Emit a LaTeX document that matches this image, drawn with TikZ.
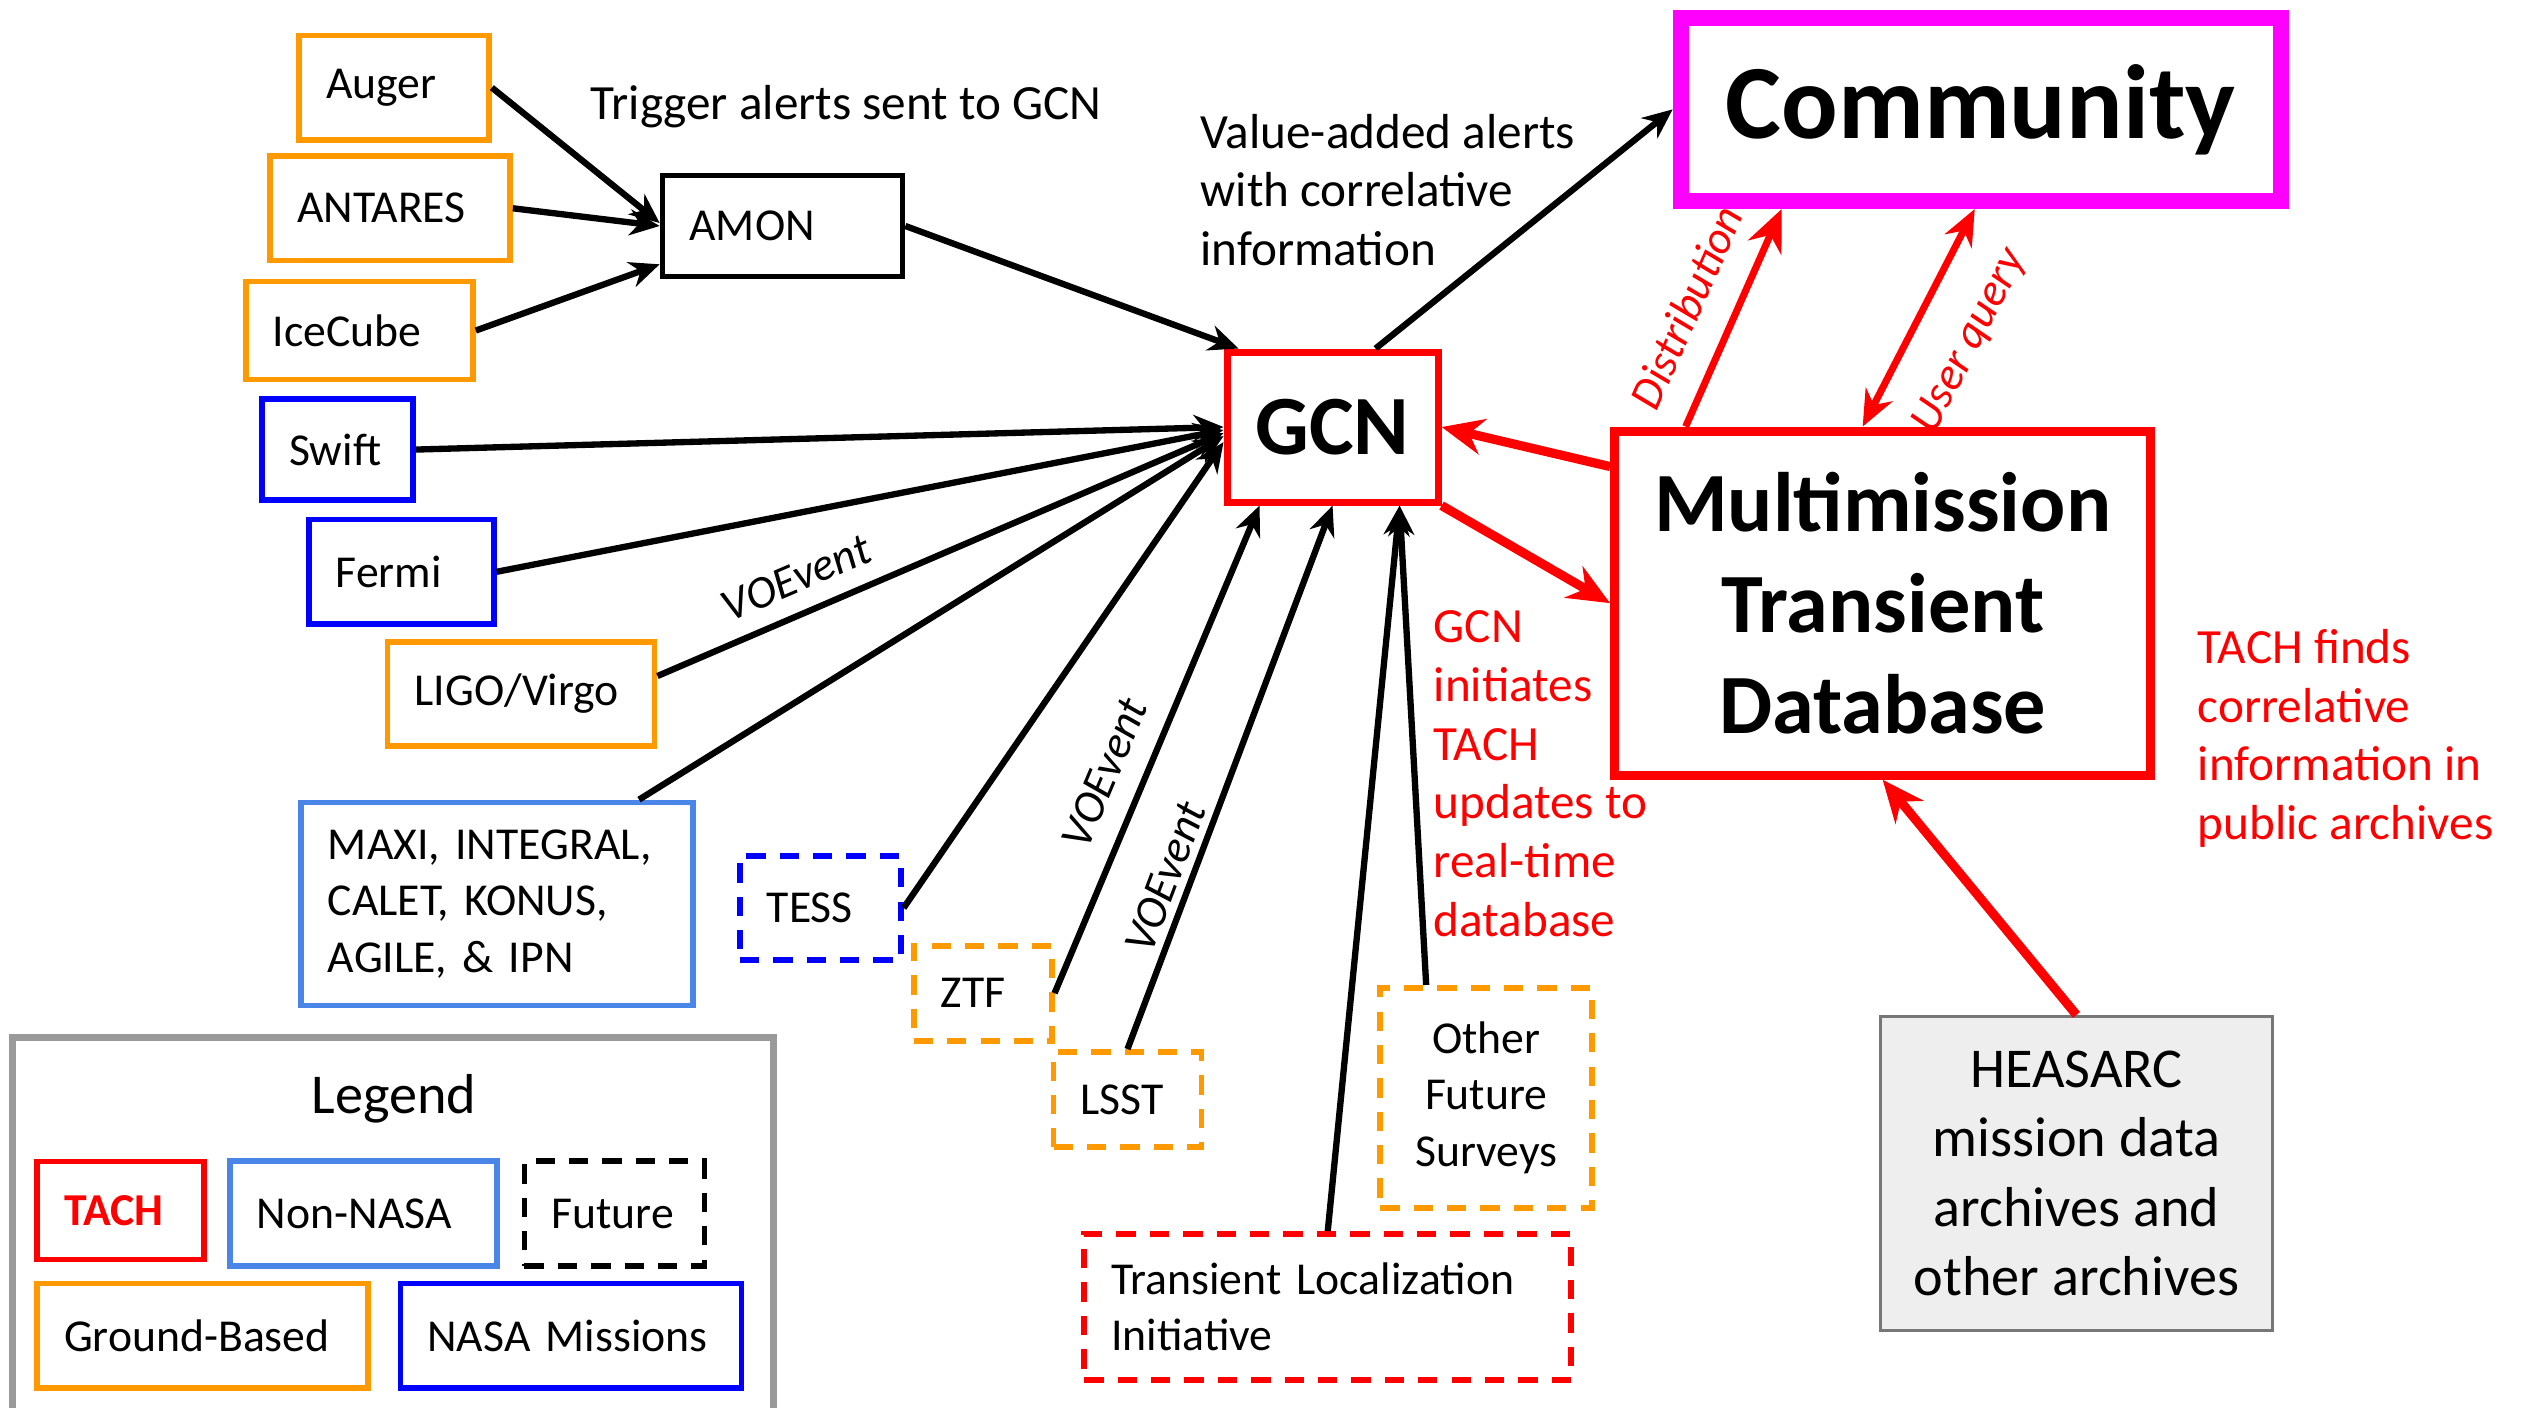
\documentclass[tikz,border=0pt]{standalone}
\usepackage{fontspec}
\setmainfont{Carlito}
\usetikzlibrary{arrows.meta,positioning}
\definecolor{gorange}{HTML}{FF9900}
\definecolor{nblue}{HTML}{0000FF}
\definecolor{cblue}{HTML}{4A86E8}
\definecolor{tred}{HTML}{FF0000}
\definecolor{cmag}{HTML}{FF00FF}
\definecolor{lgray}{HTML}{999999}
\definecolor{hgray}{HTML}{777777}
\definecolor{hfill}{HTML}{EEEEEE}
\frenchspacing

\begin{document}
\begin{tikzpicture}[
  x=0.016084cm, y=-0.016084cm,
  font=\fontsize{13}{16}\selectfont,
  box/.style={draw, line width=1.6pt, rectangle, minimum height=1.045cm, align=left, inner xsep=0.27cm, inner ysep=2pt},
  ground/.style={box, draw=gorange},
  nasa/.style={box, draw=nblue},
  nonnasa/.style={box, draw=cblue},
  tach/.style={box, draw=tred},
  futbox/.style={dash pattern=on 5.5pt off 4pt},
  lbl/.style={font=\fontsize{14}{16.7}\selectfont, align=left, inner sep=0pt},
  redlbl/.style={lbl, text=tred},
  voe/.style={font=\fontsize{13}{15}\selectfont\itshape, sloped, above, inner sep=2pt},
  arr/.style={-{Stealth[length=3mm,width=2.6mm]}, line width=1.8pt},
  tarr/.style={-{Stealth[length=4.2mm,width=3.6mm]}, line width=2.6pt, draw=tred},
  qarr/.style={{Stealth[length=3.6mm,width=3mm]}-{Stealth[length=3.6mm,width=3mm]}, line width=2pt, draw=tred}
]
\useasboundingbox (0,0) rectangle (1568,875);

% sources feeding AMON
\node[ground, minimum width=1.90cm, text width=1.36cm] (auger) at (245,54.5) {Auger};
\node[ground, minimum width=2.40cm, text width=1.86cm] (antares) at (242.5,129.5) {ANTARES};
\node[ground, minimum width=2.27cm, text width=1.73cm, minimum height=0.98cm] (icecube) at (223.5,205.5) {IceCube};
\node[box, minimum width=2.40cm, text width=1.86cm, minimum height=1.01cm] (amon) at (486.5,140.5) {AMON};

% missions and surveys
\node[nasa, minimum width=1.51cm, text width=0.97cm, minimum height=1.01cm] (swift) at (210,279.5) {Swift};
\node[nasa, minimum width=1.85cm, text width=1.31cm] (fermi) at (249.5,355.5) {Fermi};
\node[ground, minimum width=2.67cm, text width=2.13cm] (ligo) at (324,431.5) {LIGO/Virgo};
\node[nonnasa, minimum width=3.92cm, text width=3.38cm, minimum height=2.03cm] (maxi) at (309,562) {MAXI, INTEGRAL,\\CALET, KONUS,\\AGILE, \& IPN};
\node[nasa, futbox, minimum width=1.61cm, text width=1.07cm] (tess) at (510,564.5) {TESS};
\node[ground, futbox, minimum width=1.38cm, text width=0.84cm, minimum height=0.95cm] (ztf) at (611,617.5) {ZTF};
\node[ground, futbox, minimum width=1.48cm, text width=0.94cm, minimum height=0.95cm] (lsst) at (701,683.5) {LSST};
\node[ground, futbox, minimum width=2.12cm, text width=1.58cm, minimum height=2.20cm, align=center] (other) at (924,682.5) {Other\\Future\\Surveys};
\node[tach, futbox, minimum width=4.87cm, text width=4.33cm, minimum height=1.46cm] (tli) at (825.5,812.5) {Transient Localization\\Initiative};

% core
\node[tach, line width=2pt, minimum width=2.11cm, minimum height=1.50cm, align=center, inner xsep=2pt, font=\fontsize{24}{28}\selectfont\bfseries] (gcn) at (828.5,265.5) {GCN};
\node[draw=cmag, line width=4.6pt, minimum width=6.0cm, minimum height=1.83cm, font=\fontsize{30}{34}\selectfont\bfseries] (comm) at (1231.5,68) {Community};
\node[tach, line width=2.6pt, minimum width=5.36cm, minimum height=3.44cm, align=center, inner xsep=2pt, font=\fontsize{24}{28.6}\selectfont\bfseries] (mtd) at (1170.5,375) {Multimission\\Transient\\Database};
\node[draw=hgray, fill=hfill, line width=0.8pt, minimum width=3.92cm, minimum height=3.14cm, align=center, font=\fontsize{16}{19.7}\selectfont] (heasarc) at (1291,729.5) {HEASARC\\mission data\\archives and\\other archives};

% notes
\node[lbl] (trig) at (526,66) {Trigger alerts sent to GCN};
\node[lbl, anchor=west] (valadd) at (746,118) {Value-added alerts\\with correlative\\information};
\node[redlbl, anchor=west] (gcnnote) at (891,481) {GCN\\initiates\\TACH\\updates to\\real-time\\database};
\node[redlbl, anchor=west] (tachnote) at (1366,459) {TACH finds\\correlative\\information in\\public archives};

% legend
\node[draw=lgray, line width=2pt, minimum width=7.61cm, minimum height=3.9cm] (legend) at (244.5,766) {};
\node[font=\fontsize{16}{19}\selectfont] (legtitle) at (245,683) {Legend};
\node[tach, minimum width=1.67cm, text width=1.13cm, minimum height=0.98cm, text=tred, font=\fontsize{13}{16}\selectfont\bfseries] (lgtach) at (75,752.5) {TACH};
\node[nonnasa, minimum width=2.67cm, text width=2.13cm] (lgnon) at (226,754.5) {Non-NASA};
\node[box, futbox, minimum width=1.80cm, text width=1.26cm] (lgfut) at (382,754.5) {Future};
\node[ground, minimum width=3.31cm, text width=2.77cm] (lgground) at (126,830.5) {Ground-Based};
\node[nasa, minimum width=3.41cm, text width=2.87cm] (lgnasa) at (355,830.5) {NASA Missions};

% alerts into AMON and GCN
\draw[arr] (auger.east) -- ([yshift=0.03cm]amon.west);
\draw[arr] (antares.east) -- (amon.west);
\draw[arr] (icecube.east) -- ([yshift=0.15cm]amon.south west);
\draw[arr] (amon.east) -- ([xshift=0.15cm]gcn.north west);
\draw[arr] (swift.east) -- (gcn.west);
\draw[arr] (fermi.east) -- ([yshift=-0.03cm]gcn.west);
\draw[arr] ([yshift=0.18cm]ligo.east) -- ([yshift=-0.06cm]gcn.west) node[voe, pos=0.27, above=3pt] {VOEvent};
\draw[arr] ([xshift=1.42cm]maxi.north) -- ([yshift=-0.09cm]gcn.west);
\draw[arr] (tess.east) -- ([yshift=-0.15cm]gcn.west);
\draw[arr] (ztf.east) -- ([xshift=-0.73cm]gcn.south) node[voe, pos=0.42, above=4pt] {VOEvent};
\draw[arr] (lsst.north) -- (gcn.south) node[voe, pos=0.3] {VOEvent};
\draw[arr] (tli.north) -- ([xshift=0.67cm]gcn.south);
\draw[arr] ([xshift=-0.6cm]other.north) -- ([xshift=0.67cm]gcn.south);
\draw[arr] ([xshift=0.43cm]gcn.north) -- (comm.west);

% TACH links
\draw[tarr] ([yshift=-0.4cm]mtd.north west) -- (gcn.east);
\draw[tarr] (gcn.south east) -- (mtd.west);
\draw[tarr, line width=2pt] ([xshift=-1.97cm]mtd.north) -- ([xshift=-1.99cm]comm.south) node[voe, pos=0.46, above=6pt, text=tred] {Distribution};
\draw[qarr] ([xshift=-0.2cm]mtd.north) -- ([xshift=-0.06cm]comm.south) node[voe, pos=0.51, below=8pt, text=tred] {User query};
\draw[tarr] (heasarc.north) -- (mtd.south);
\end{tikzpicture}
\end{document}
